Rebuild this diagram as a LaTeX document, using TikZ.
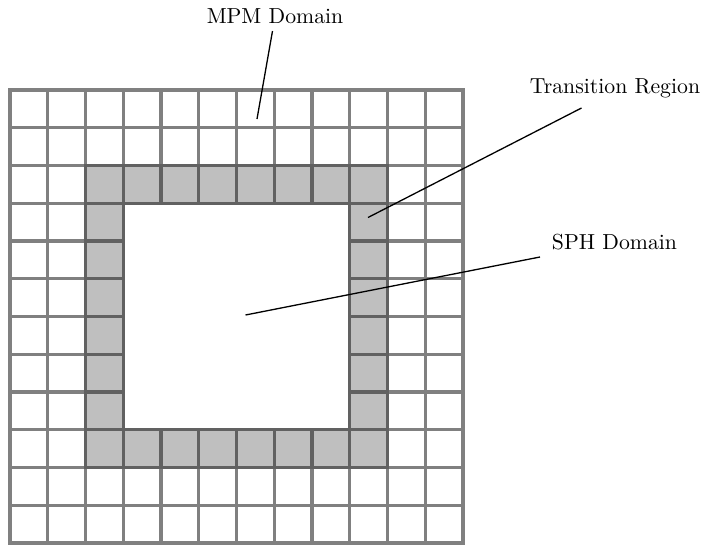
\documentclass[tikz,border=0pt]{standalone}
\tikzset{
  gridline/.style={draw=gray, line width=1.4pt, line cap=rect},
  ringcell/.style={draw=black!62, fill=black!25, line width=1.4pt},
  lbl/.style={font=\normalsize, inner sep=1pt},
  leader/.style={draw=black, line width=0.6pt}
}
\begin{document}
\begin{tikzpicture}[x=0.46pt,y=-0.46pt]
\useasboundingbox (0,0) rectangle (707,544);
% 12 x 12 MPM background grid, transition ring, and SPH core
\begin{scope}[shift={(10,90)}, x=17.365pt, y=-17.365pt]
  \foreach \k in {0,...,12} {
    \draw[gridline] (\k,0) -- (\k,12);
    \draw[gridline] (0,\k) -- (12,\k);
  }
  \fill[white] (3,3) rectangle (9,9);
  \foreach \i in {2,...,9} {
    \draw[ringcell] (\i,2) rectangle ++(1,1);
    \draw[ringcell] (\i,9) rectangle ++(1,1);
  }
  \foreach \j in {3,...,8} {
    \draw[ringcell] (2,\j) rectangle ++(1,1);
    \draw[ringcell] (9,\j) rectangle ++(1,1);
  }
\end{scope}
% labels and leader lines
\node[lbl] (mpm) at (275,16) {MPM Domain};
\node[lbl] (trans) at (615,88) {Transition Region};
\node[lbl] (sph) at (614.5,242) {SPH Domain};
\coordinate (mpmfrom) at (272.5,31);
\coordinate (mpmto) at (257,119);
\coordinate (transfrom) at (581.5,108);
\coordinate (transto) at (368,217.5);
\coordinate (sphfrom) at (540,257);
\coordinate (sphto) at (245.5,315);
\draw[leader] (mpmfrom) -- (mpmto);
\draw[leader] (transfrom) -- (transto);
\draw[leader] (sphfrom) -- (sphto);
\end{tikzpicture}
\end{document}
